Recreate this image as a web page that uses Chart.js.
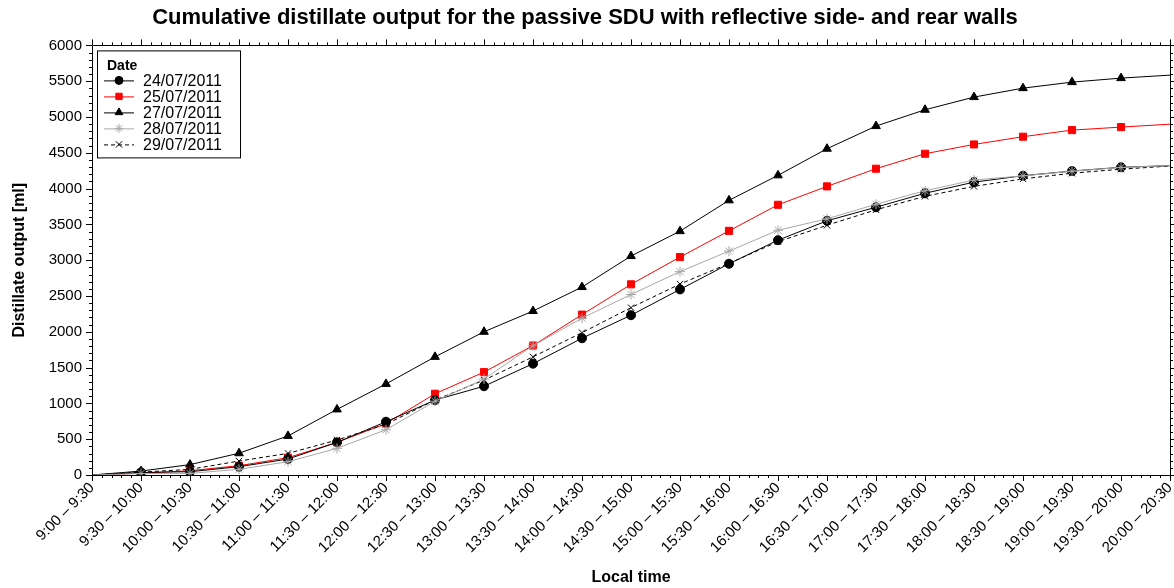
<!DOCTYPE html>
<html>
<head>
<meta charset="utf-8">
<script src="https://cdn.jsdelivr.net/npm/chart.js@4/dist/chart.umd.min.js"></script>
<style>
  html, body { margin: 0; padding: 0; background: #fff; }
  #contenedor { width: 1174px; height: 588px; }
</style>
</head>
<body>
<div id="contenedor"><canvas id="myChart"></canvas></div>
<script>
// Datos
const horas = [
    '9:00 – 9:30', '9:30 – 10:00', '10:00 – 10:30', '10:30 – 11:00', '11:00 – 11:30',
    '11:30 – 12:00', '12:00 – 12:30', '12:30 – 13:00', '13:00 – 13:30', '13:30 – 14:00',
    '14:00 – 14:30', '14:30 – 15:00', '15:00 – 15:30', '15:30 – 16:00', '16:00 – 16:30',
    '16:30 – 17:00', '17:00 – 17:30', '17:30 – 18:00', '18:00 – 18:30', '18:30 – 19:00',
    '19:00 – 19:30', '19:30 – 20:00', '20:00 – 20:30'
];
const fechas = ['24/07/2011', '25/07/2011', '27/07/2011', '28/07/2011', '29/07/2011'];

const dia24 = [0, 35, 46, 116, 223, 456, 744, 1046, 1240, 1555, 1910, 2232, 2592, 2950, 3280, 3550, 3740, 3935, 4090, 4180, 4245, 4298, 4320];
const dia25 = [0, 25, 60, 130, 242, 456, 718, 1135, 1437, 1808, 2240, 2663, 3044, 3410, 3774, 4031, 4278, 4487, 4617, 4725, 4817, 4859, 4900];
const dia27 = [0, 55, 145, 304, 546, 916, 1272, 1650, 2000, 2290, 2625, 3058, 3406, 3836, 4185, 4557, 4873, 5101, 5278, 5403, 5487, 5543, 5585];
const dia28 = [0, 20, 23, 79, 186, 372, 632, 1030, 1340, 1806, 2190, 2521, 2840, 3127, 3418, 3578, 3781, 3970, 4120, 4178, 4243, 4296, 4320];
const dia29 = [0, 40, 79, 195, 302, 488, 709, 1046, 1325, 1650, 1988, 2337, 2667, 2955, 3258, 3488, 3704, 3892, 4031, 4136, 4215, 4271, 4315];

const yMin = 0;
const yMax = 6000;
const yPaso = 500;

const fuente = "'Liberation Sans', Arial, sans-serif";

// Ocultar el marcador en los extremos del eje
function radio(r) {
    return ctx => (ctx.dataIndex === 0 || ctx.dataIndex === horas.length - 1) ? 0 : r;
}

function serie(nombre, valores, color, estilo, r, guiones) {
    return {
        label: nombre,
        data: valores,
        borderColor: color,
        backgroundColor: color,
        pointBorderColor: color,
        pointBackgroundColor: color,
        pointStyle: estilo,
        pointRadius: radio(r),
        pointHoverRadius: radio(r),
        pointBorderWidth: 1,
        borderWidth: 1,
        borderDash: guiones || [],
        tension: 0
    };
}

const datasets = [
    serie(fechas[3], dia28, '#a8a8a8', 'star', 5),
    serie(fechas[4], dia29, '#000000', 'crossRot', 4.5, [4, 3]),
    serie(fechas[0], dia24, '#000000', 'circle', 4.5),
    serie(fechas[1], dia25, '#ff0000', 'rect', 5),
    serie(fechas[2], dia27, '#000000', 'triangle', 5)
];

// Marco del área con marcas mayores y menores en los cuatro lados
const marcoEjes = {
    id: 'marcoEjes',
    afterDatasetsDraw(chart) {
        const { ctx, chartArea: a, scales } = chart;
        const x = scales.x, y = scales.y;
        ctx.save();
        ctx.strokeStyle = '#000';
        ctx.lineWidth = 1;
        ctx.beginPath();
        ctx.rect(Math.round(a.left) + 0.5, Math.round(a.top) + 0.5,
                 Math.round(a.right - a.left), Math.round(a.bottom - a.top));
        ctx.stroke();

        ctx.beginPath();
        for (let v = yMin; v <= yMax; v += 100) {
            const py = Math.round(y.getPixelForValue(v)) + 0.5;
            const largo = v % yPaso === 0 ? 6 : 3;
            ctx.moveTo(a.left, py); ctx.lineTo(a.left - largo, py);
            ctx.moveTo(a.right, py); ctx.lineTo(a.right + largo, py);
        }
        for (let i = 0; i < horas.length; i++) {
            const p0 = x.getPixelForValue(i);
            const px = Math.round(p0) + 0.5;
            ctx.moveTo(px, a.bottom); ctx.lineTo(px, a.bottom + 6);
            ctx.moveTo(px, a.top); ctx.lineTo(px, a.top - 6);
            if (i < horas.length - 1) {
                const p1 = x.getPixelForValue(i + 1);
                for (let k = 1; k < 5; k++) {
                    const pm = Math.round(p0 + (p1 - p0) * k / 5) + 0.5;
                    ctx.moveTo(pm, a.bottom); ctx.lineTo(pm, a.bottom + 3);
                    ctx.moveTo(pm, a.top); ctx.lineTo(pm, a.top - 3);
                }
            }
        }
        ctx.stroke();
        ctx.restore();
    }
};

// Leyenda con recuadro dentro del área del gráfico
const leyendaFechas = {
    id: 'leyendaFechas',
    afterDraw(chart) {
        const { ctx, chartArea: a } = chart;
        const x0 = a.left + 5, y0 = a.top + 5;
        ctx.save();
        ctx.fillStyle = '#fff';
        ctx.fillRect(x0, y0, 143, 107);
        ctx.strokeStyle = '#000';
        ctx.lineWidth = 1;
        ctx.strokeRect(x0 + 0.5, y0 + 0.5, 143, 107);
        ctx.fillStyle = '#000';
        ctx.font = 'bold 14px ' + fuente;
        ctx.textBaseline = 'middle';
        ctx.fillText('Date', x0 + 10, y0 + 16);
        ctx.font = '16px ' + fuente;

        const orden = fechas.map(f => datasets.find(d => d.label === f));
        orden.forEach((d, i) => {
            const yy = y0 + 30 + i * 16;
            ctx.strokeStyle = d.borderColor;
            ctx.setLineDash(d.borderDash);
            ctx.beginPath();
            ctx.moveTo(x0 + 7, yy + 0.5);
            ctx.lineTo(x0 + 37, yy + 0.5);
            ctx.stroke();
            ctx.setLineDash([]);
            const r = d.pointStyle === 'circle' ? 4 : 4.5;
            ctx.fillStyle = d.pointBackgroundColor;
            ctx.strokeStyle = d.pointBorderColor;
            if (Chart.helpers && Chart.helpers.drawPoint) {
                Chart.helpers.drawPoint(ctx, { pointStyle: d.pointStyle, radius: r, borderWidth: 1, rotation: 0 }, x0 + 22, yy);
            }
            ctx.fillStyle = '#000';
            ctx.fillText(d.label, x0 + 46, yy + 1);
        });
        ctx.restore();
    }
};

const ctx = document.getElementById('myChart').getContext('2d');
new Chart(ctx, {
    type: 'line',
    data: { labels: horas, datasets: datasets },
    plugins: [marcoEjes, leyendaFechas],
    options: {
        responsive: true,
        maintainAspectRatio: false,
        animation: false,
        layout: { padding: { left: 0, right: 4, top: 0, bottom: 0 } },
        plugins: {
            legend: { display: false },
            tooltip: { enabled: false },
            title: {
                display: true,
                text: 'Cumulative distillate output for the passive SDU with reflective side- and rear walls',
                color: '#000',
                font: { family: fuente, size: 22, weight: 'bold' },
                padding: { top: 5, bottom: 14 }
            }
        },
        scales: {
            x: {
                grid: { display: false, drawTicks: false },
                border: { display: false },
                ticks: {
                    color: '#000',
                    font: { family: fuente, size: 15 },
                    minRotation: 45,
                    maxRotation: 45,
                    autoSkip: false,
                    padding: 4
                },
                title: {
                    display: true,
                    text: 'Local time',
                    color: '#000',
                    font: { family: fuente, size: 16, weight: 'bold' },
                    padding: { top: 4, bottom: 1 }
                },
                afterFit: s => {
                    s.height = 113;
                    s.paddingLeft = 0;
                    s.paddingRight = 0;
                }
            },
            y: {
                min: yMin,
                max: yMax,
                grid: { display: false, drawTicks: false },
                border: { display: false },
                ticks: {
                    stepSize: yPaso,
                    color: '#000',
                    font: { family: fuente, size: 15 },
                    padding: 10,
                    callback: v => String(v)
                },
                title: {
                    display: true,
                    text: 'Distillate output [ml]',
                    color: '#000',
                    font: { family: fuente, size: 16, weight: 'bold' },
                    padding: { top: 10, bottom: 0 }
                },
                afterFit: s => { s.width = 92; }
            }
        }
    }
});
</script>
</body>
</html>
